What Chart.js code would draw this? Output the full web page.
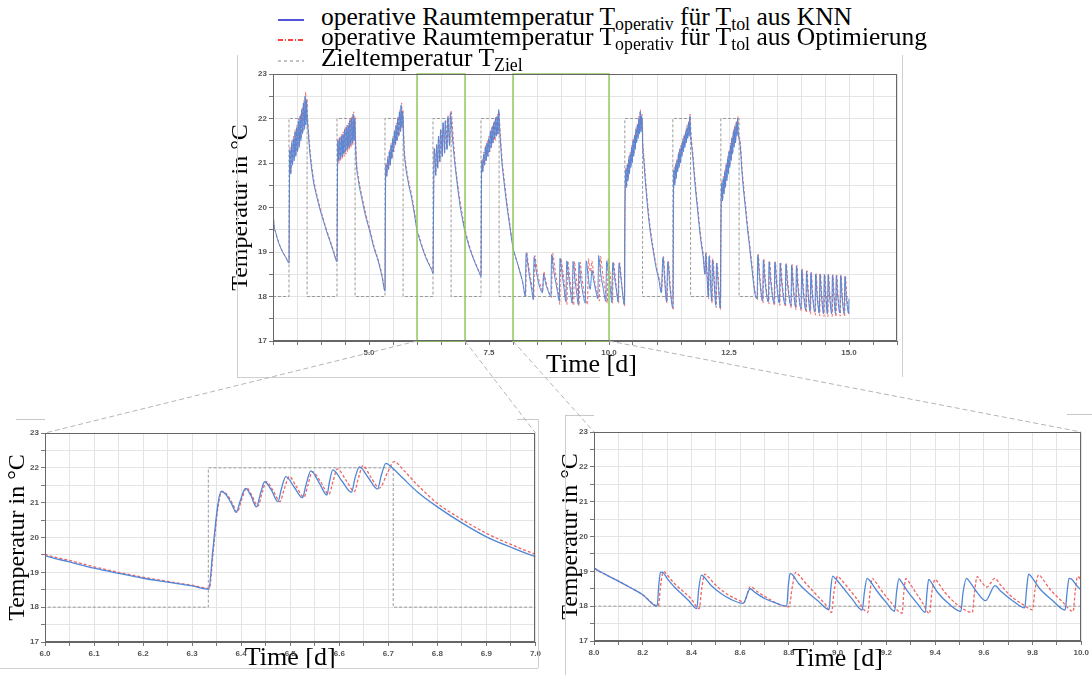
<!DOCTYPE html>
<html>
<head>
<meta charset="utf-8">
<script src="https://cdn.jsdelivr.net/npm/chart.js@4.4.0/dist/chart.umd.min.js"></script>
<style>
    body { margin: 0; background: #fff; width: 1092px; height: 675px; position: relative; overflow: hidden; }
    canvas { position: absolute; }
    .leg { position: absolute; left: 321px; font-family: 'Liberation Serif', serif; font-size: 25.5px; line-height: 25px; white-space: nowrap; color: #000; }
    .leg sub { font-size: 0.7em; vertical-align: -0.28em; line-height: 0; }
    #overlay { position: absolute; left: 0; top: 0; pointer-events: none; }
</style>
</head>
<body>
<canvas id="topChart" width="674" height="312" style="left:229px;top:66px"></canvas>
<canvas id="zoomA" width="538" height="246" style="left:6px;top:425px"></canvas>
<canvas id="zoomB" width="533" height="248" style="left:559px;top:424px"></canvas>

<div class="leg" style="top:4px">operative Raumtemperatur T<sub>operativ</sub> für T<sub>tol</sub> aus KNN</div>
<div class="leg" style="top:24px">operative Raumtemperatur T<sub>operativ</sub> für T<sub>tol</sub> aus Optimierung</div>
<div class="leg" style="top:45px">Zieltemperatur T<sub>Ziel</sub></div>

<svg id="overlay" width="1092" height="675"></svg>

<script>
// Time axis in days, temperatures in °C

// KNN, days 3 - 6
const knnDays3to6 = [
    [3.00,19.95],[3.02,19.62],[3.06,19.42],[3.12,19.2],[3.2,19.0],[3.27,18.87],[3.333,18.75],
    [3.342,20.4],[3.352,21.3],[3.37,20.75],[3.388,21.45],[3.405,20.95],[3.423,21.55],[3.44,21.05],[3.458,21.7],[3.475,21.15],
    [3.493,21.8],[3.51,21.25],[3.528,21.95],[3.545,21.35],[3.563,22.05],[3.58,21.5],[3.598,22.2],[3.615,21.65],[3.633,22.35],
    [3.65,21.75],[3.668,22.5],[3.685,21.85],[3.7,22.4],[3.712,22.05],
    [3.74,21.6],[3.78,21.1],[3.84,20.6],[3.91,20.25],[3.98,19.95],[4.05,19.7],[4.12,19.45],[4.19,19.23],[4.26,19.0],[4.333,18.78],
    [4.342,20.6],[4.352,21.5],[4.37,21.05],[4.388,21.55],[4.405,21.1],[4.423,21.6],[4.44,21.15],[4.458,21.65],[4.475,21.2],
    [4.493,21.75],[4.51,21.25],[4.528,21.8],[4.545,21.3],[4.563,21.85],[4.58,21.35],[4.598,21.95],[4.615,21.4],[4.633,22.0],
    [4.65,21.45],[4.668,22.1],[4.685,21.5],[4.7,22.0],[4.712,21.7],
    [4.73,21.1],[4.78,20.6],[4.85,20.2],[4.93,19.8],[5.02,19.45],[5.1,19.1],[5.19,18.8],[5.27,18.45],[5.333,18.12],
    [5.342,20.2],[5.352,20.95],[5.37,20.7],[5.388,21.1],[5.405,20.85],[5.423,21.25],[5.44,20.95],[5.458,21.4],[5.475,21.1],
    [5.493,21.55],[5.51,21.25],[5.528,21.7],[5.545,21.4],[5.563,21.85],[5.58,21.5],[5.598,22.0],[5.615,21.6],[5.633,22.15],
    [5.65,21.7],[5.668,22.3],[5.685,21.8],[5.7,22.15],[5.712,21.85],
    [5.73,21.3],[5.76,20.95],[5.82,20.55],[5.89,20.2],[5.95,19.82]
];

// KNN, days 6 - 8
const knnDays6to8 = [
    [6.0,19.48],[6.05,19.3],[6.1,19.12],[6.15,18.97],[6.2,18.83],[6.25,18.72],[6.3,18.61],[6.334,18.52],
    [6.342,19.6],[6.352,20.9],[6.359,21.32],[6.368,21.25],[6.38,20.98],[6.39,20.72],[6.398,21.05],[6.409,21.41],[6.42,21.2],
    [6.431,20.88],[6.44,21.3],[6.448,21.6],[6.462,21.35],[6.475,21.03],[6.482,21.4],[6.491,21.75],[6.508,21.45],[6.525,21.14],
    [6.532,21.5],[6.542,21.91],[6.558,21.6],[6.575,21.22],[6.58,21.6],[6.587,21.94],[6.605,21.63],[6.625,21.3],[6.632,21.7],
    [6.641,22.03],[6.66,21.7],[6.678,21.39],[6.686,21.8],[6.695,22.13],[6.709,21.99],[6.73,21.7],[6.76,21.3],[6.8,20.88],
    [6.85,20.42],[6.9,20.02],[6.95,19.72],[7.0,19.45],
    [7.05,19.25],[7.1,19.07],[7.15,18.92],[7.2,18.78],[7.25,18.65],[7.3,18.53],[7.333,18.45],
    [7.342,20.4],[7.352,21.05],[7.37,20.8],[7.388,21.2],[7.405,20.95],[7.423,21.35],[7.44,21.05],[7.458,21.45],[7.475,21.15],
    [7.493,21.55],[7.51,21.25],[7.528,21.7],[7.545,21.35],[7.563,21.8],[7.58,21.45],[7.598,21.9],[7.615,21.55],[7.633,22.0],
    [7.65,21.6],[7.668,22.05],[7.685,21.65],[7.703,22.2],[7.715,21.9],
    [7.74,21.45],[7.77,21.0],[7.81,20.6],[7.87,20.06],[7.93,19.6]
];

// KNN, weekend days 8 - 10.3
const knnDays8to10 = [
    [8.0,19.1],[8.05,18.9],[8.1,18.72],[8.15,18.53],[8.2,18.33],[8.259,18.0],[8.266,18.6],[8.273,18.97],[8.28,18.98],
    [8.3,18.8],[8.33,18.55],[8.36,18.35],[8.39,18.15],[8.422,17.93],[8.43,18.5],[8.441,18.89],[8.45,18.85],[8.48,18.6],
    [8.52,18.37],[8.56,18.2],[8.612,18.08],[8.641,18.5],[8.66,18.4],[8.7,18.22],[8.75,18.08],[8.791,18.0],[8.798,18.6],
    [8.805,18.94],[8.815,18.9],[8.84,18.65],[8.88,18.38],[8.92,18.15],[8.965,17.9],[8.972,18.5],[8.98,18.86],[8.99,18.8],
    [9.02,18.55],[9.06,18.2],[9.101,17.89],[9.11,18.4],[9.121,18.8],[9.13,18.75],[9.16,18.45],[9.2,18.1],[9.234,17.85],
    [9.242,18.4],[9.252,18.79],[9.26,18.72],[9.29,18.4],[9.33,18.05],[9.36,17.82],[9.367,18.4],[9.374,18.77],[9.383,18.7],
    [9.41,18.4],[9.46,18.05],[9.506,17.85],[9.515,18.4],[9.529,18.8],[9.54,18.72],[9.57,18.42],[9.608,18.16],[9.646,18.59],
    [9.67,18.43],[9.72,18.15],[9.768,17.95],[9.776,18.5],[9.784,18.92],[9.795,18.85],[9.83,18.5],[9.88,18.18],[9.934,17.89],
    [9.942,18.4],[9.95,18.8],[9.96,18.78],[9.98,18.6],[10.0,18.45],[10.03,18.15],[10.06,17.87],[10.068,18.4],[10.08,18.76],
    [10.09,18.7],[10.12,18.4],[10.16,18.1],[10.19,17.88],[10.198,18.4],[10.21,18.75],[10.22,18.7],[10.25,18.4],[10.28,18.1],
    [10.32,17.82]
];

// KNN, days 10.3 - 13.1
const knnDays10to13 = [
    [10.328,19.5],[10.335,20.3],[10.35,20.85],[10.365,20.45],[10.38,20.95],[10.395,20.6],[10.41,21.1],[10.425,20.75],
    [10.44,21.2],[10.455,20.9],[10.47,21.35],[10.485,21.0],[10.5,21.5],[10.515,21.15],[10.53,21.6],[10.545,21.3],
    [10.56,21.75],[10.575,21.45],[10.59,21.85],[10.605,21.55],[10.62,22.0],[10.635,21.65],[10.65,22.15],[10.665,21.7],
    [10.68,22.05],[10.692,21.8],
    [10.7,21.44],[10.73,21.0],[10.76,20.55],[10.8,20.05],[10.83,19.72],[10.88,19.3],[10.93,18.97],[10.98,18.65],[11.04,18.37],
    [11.09,18.08],[11.11,18.6],[11.125,18.88],[11.16,18.35],[11.2,17.88],[11.212,18.4],[11.225,18.78],[11.27,18.2],[11.33,17.75],
    [11.343,20.3],[11.355,20.85],[11.37,20.5],[11.385,20.95],[11.4,20.65],[11.415,21.05],[11.43,20.8],[11.445,21.2],
    [11.46,20.9],[11.475,21.3],[11.49,21.0],[11.505,21.4],[11.52,21.15],[11.535,21.5],[11.55,21.25],[11.565,21.6],
    [11.58,21.35],[11.595,21.7],[11.61,21.45],[11.625,21.8],[11.64,21.55],[11.655,21.9],[11.67,21.6],[11.685,22.05],[11.695,21.75],
    [11.72,21.4],[11.74,21.2],[11.77,20.8],[11.81,20.32],[11.85,19.9],[11.88,19.57],[11.92,19.2],[11.96,18.9],[12.0,18.5],
    [12.006,18.8],[12.015,18.97],[12.04,18.5],[12.07,18.0],[12.077,18.5],[12.085,18.9],[12.11,18.4],[12.14,17.9],[12.147,18.4],
    [12.155,18.82],[12.19,18.3],[12.225,17.8],[12.232,18.35],[12.24,18.75],[12.28,18.2],[12.318,17.74],
    [12.328,19.2],[12.335,20.0],[12.35,20.55],[12.365,20.15],[12.38,20.65],[12.395,20.3],[12.41,20.8],[12.425,20.45],
    [12.44,20.95],[12.455,20.6],[12.47,21.1],[12.485,20.75],[12.5,21.25],[12.515,20.9],[12.53,21.4],[12.545,21.05],
    [12.56,21.55],[12.575,21.2],[12.59,21.7],[12.605,21.35],[12.62,21.8],[12.635,21.45],[12.65,21.9],[12.665,21.6],
    [12.68,22.0],[12.69,21.7],
    [12.72,21.5],[12.74,21.29],[12.77,20.8],[12.81,20.32],[12.85,19.9],[12.88,19.57],[12.93,19.1],[12.97,18.7],[13.04,18.07]
];

// KNN, days 13 - 15
const knnDays13to15 = [
    [13.085,17.95],[13.1,18.93],[13.13,18.5],[13.2,17.9],[13.215,18.82],[13.245,18.4],[13.32,17.88],[13.335,18.78],
    [13.365,18.38],[13.44,17.85],[13.455,18.77],[13.485,18.37],[13.55,17.85],[13.565,18.75],[13.595,18.35],[13.67,17.82],
    [13.685,18.73],[13.715,18.33],[13.79,17.8],[13.805,18.7],[13.83,18.3],[13.89,17.76],[13.905,18.68],[13.93,18.28],
    [14.0,17.73],[14.015,18.6],[14.04,18.2],[14.1,17.7],[14.115,18.57],[14.14,18.17],[14.19,17.68],[14.205,18.53],
    [14.23,18.13],[14.29,17.65],[14.305,18.5],[14.33,18.1],[14.38,17.63],[14.395,18.5],[14.42,18.1],[14.47,17.62],
    [14.485,18.49],[14.51,18.08],[14.55,17.62],[14.565,18.49],[14.59,18.08],[14.64,17.62],[14.655,18.48],[14.68,18.07],
    [14.72,17.62],[14.735,18.47],[14.76,18.07],[14.81,17.63],[14.825,18.47],[14.85,18.07],[14.9,17.62],[14.915,18.45],
    [14.94,18.05],[14.99,17.62],[15.0,17.95]
];

// Optimierung, days 3 - 6
const optDays3to6 = [
    [3.0,19.95],[3.02,19.62],[3.06,19.43],[3.12,19.21],[3.2,19.01],[3.27,18.88],[3.335,18.76],
    [3.345,20.5],[3.356,21.35],[3.374,20.8],[3.392,21.5],[3.41,21.0],[3.428,21.6],[3.446,21.1],[3.464,21.75],[3.482,21.2],
    [3.5,21.85],[3.518,21.3],[3.536,22.0],[3.554,21.4],[3.572,22.1],[3.59,21.55],[3.608,22.25],[3.626,21.7],[3.644,22.4],
    [3.662,21.8],[3.68,22.6],[3.696,21.95],[3.706,22.45],[3.716,22.15],
    [3.745,21.65],[3.785,21.15],[3.845,20.65],[3.915,20.28],[3.985,19.98],[4.055,19.72],[4.125,19.47],[4.195,19.25],[4.265,19.02],[4.335,18.8],
    [4.345,20.7],[4.356,21.55],[4.374,21.0],[4.392,21.6],[4.41,21.05],[4.428,21.65],[4.446,21.1],[4.464,21.7],[4.482,21.15],
    [4.5,21.8],[4.518,21.2],[4.536,21.85],[4.554,21.25],[4.572,21.9],[4.59,21.3],[4.608,22.0],[4.626,21.35],[4.644,22.05],
    [4.662,21.4],[4.68,22.15],[4.696,21.5],[4.706,22.05],[4.716,21.75],
    [4.735,21.15],[4.785,20.65],[4.855,20.25],[4.935,19.85],[5.025,19.48],[5.105,19.13],[5.195,18.82],[5.275,18.47],[5.335,18.14],
    [5.345,20.3],[5.356,21.0],[5.374,20.72],[5.392,21.15],[5.41,20.85],[5.428,21.3],[5.446,20.95],[5.464,21.45],[5.482,21.1],
    [5.5,21.6],[5.518,21.25],[5.536,21.75],[5.554,21.4],[5.572,21.9],[5.59,21.5],[5.608,22.05],[5.626,21.6],[5.644,22.2],
    [5.662,21.7],[5.68,22.35],[5.696,21.8],[5.706,22.2],[5.716,21.9],
    [5.735,21.35],[5.765,21.0],[5.825,20.6],[5.895,20.25],[5.955,19.86]
];

// Optimierung, days 6 - 8
const optDays6to8 = [
    [6.0,19.52],[6.05,19.34],[6.1,19.16],[6.15,19.0],[6.2,18.86],[6.25,18.74],[6.3,18.63],[6.335,18.54],
    [6.343,19.6],[6.353,20.9],[6.361,21.33],[6.37,21.25],[6.382,20.98],[6.392,20.73],[6.4,21.05],[6.411,21.42],[6.422,21.2],
    [6.434,20.9],[6.443,21.3],[6.451,21.6],[6.465,21.35],[6.479,21.03],[6.488,21.4],[6.498,21.75],[6.513,21.45],[6.528,21.16],
    [6.536,21.5],[6.545,21.89],[6.562,21.6],[6.579,21.24],[6.587,21.6],[6.596,21.97],[6.614,21.64],[6.631,21.32],[6.639,21.7],
    [6.648,22.06],[6.665,21.72],[6.682,21.42],[6.698,21.85],[6.712,22.18],[6.73,21.95],[6.76,21.5],[6.8,20.98],[6.85,20.52],
    [6.9,20.12],[6.95,19.8],[7.0,19.52],
    [7.05,19.3],[7.1,19.11],[7.15,18.95],[7.2,18.8],[7.25,18.67],[7.3,18.55],[7.335,18.47],
    [7.345,20.5],[7.356,21.1],[7.374,20.82],[7.392,21.25],[7.41,20.95],[7.428,21.4],[7.446,21.05],[7.464,21.5],[7.482,21.15],
    [7.5,21.6],[7.518,21.25],[7.536,21.75],[7.554,21.35],[7.572,21.85],[7.59,21.45],[7.608,21.95],[7.626,21.5],[7.644,22.05],
    [7.662,21.6],[7.68,22.1],[7.696,21.65],[7.708,22.15],[7.72,21.95],
    [7.745,21.5],[7.775,21.05],[7.815,20.65],[7.875,20.1],[7.935,19.63]
];

// Optimierung, weekend days 8 - 10.3
const optDays8to10 = [
    [8.0,19.1],[8.05,18.9],[8.1,18.72],[8.15,18.53],[8.2,18.33],[8.264,18.0],[8.272,18.5],[8.28,18.9],[8.287,18.99],
    [8.3,18.9],[8.33,18.65],[8.37,18.4],[8.4,18.2],[8.432,17.93],[8.442,18.5],[8.455,18.92],[8.465,18.87],[8.5,18.6],
    [8.55,18.33],[8.6,18.15],[8.615,18.1],[8.642,18.56],[8.67,18.42],[8.72,18.2],[8.76,18.05],[8.8,17.98],[8.815,18.6],
    [8.828,18.97],[8.84,18.9],[8.87,18.65],[8.91,18.35],[8.95,18.05],[8.975,17.82],[8.985,18.4],[9.0,18.86],[9.01,18.8],
    [9.04,18.55],[9.08,18.2],[9.124,17.82],[9.133,18.4],[9.142,18.8],[9.15,18.75],[9.18,18.45],[9.22,18.1],[9.265,17.8],
    [9.272,18.4],[9.28,18.79],[9.29,18.72],[9.32,18.4],[9.35,18.08],[9.377,17.79],[9.387,18.4],[9.4,18.77],[9.41,18.7],
    [9.44,18.4],[9.49,18.05],[9.553,17.82],[9.562,18.4],[9.573,18.85],[9.59,18.7],[9.613,18.55],[9.63,18.68],[9.644,18.8],
    [9.67,18.6],[9.71,18.3],[9.76,18.05],[9.8,17.9],[9.81,18.45],[9.825,18.9],[9.84,18.8],[9.87,18.5],[9.92,18.15],
    [9.967,17.85],[9.975,18.4],[9.985,18.85],[10.0,18.75],[10.04,18.3],[10.075,17.85],[10.083,18.4],[10.095,18.78],
    [10.105,18.7],[10.14,18.35],[10.2,17.85],[10.208,18.4],[10.222,18.76],[10.232,18.68],[10.27,18.25],[10.325,17.78]
];

// Optimierung, days 10.3 - 13.1
const optDays10to13 = [
    [10.333,19.6],[10.34,20.4],[10.355,20.9],[10.37,20.5],[10.385,21.0],[10.4,20.65],[10.415,21.15],[10.43,20.8],
    [10.445,21.25],[10.46,20.95],[10.475,21.4],[10.49,21.05],[10.505,21.55],[10.52,21.2],[10.535,21.65],[10.55,21.35],
    [10.565,21.8],[10.58,21.5],[10.595,21.9],[10.61,21.6],[10.625,22.05],[10.64,21.7],[10.655,22.2],[10.67,21.75],
    [10.685,22.1],[10.697,21.85],
    [10.705,21.5],[10.735,21.05],[10.765,20.6],[10.805,20.1],[10.835,19.77],[10.885,19.35],[10.935,19.0],[10.985,18.68],
    [11.045,18.4],[11.095,18.1],[11.118,18.6],[11.133,18.9],[11.17,18.35],[11.21,17.85],[11.222,18.4],[11.235,18.8],
    [11.28,18.2],[11.338,17.7],
    [11.348,20.4],[11.36,20.9],[11.375,20.55],[11.39,21.0],[11.405,20.7],[11.42,21.1],[11.435,20.85],[11.45,21.25],
    [11.465,20.95],[11.48,21.35],[11.495,21.05],[11.51,21.45],[11.525,21.2],[11.54,21.55],[11.555,21.3],[11.57,21.65],
    [11.585,21.4],[11.6,21.75],[11.615,21.5],[11.63,21.85],[11.645,21.6],[11.66,21.95],[11.675,21.65],[11.69,22.1],[11.7,21.8],
    [11.725,21.45],[11.745,21.25],[11.775,20.85],[11.815,20.37],[11.855,19.95],[11.885,19.62],[11.925,19.25],[11.965,18.93],
    [12.005,18.5],[12.012,18.8],[12.022,19.0],[12.045,18.5],[12.077,17.95],[12.084,18.5],[12.093,18.92],[12.12,18.4],
    [12.148,17.85],[12.155,18.4],[12.164,18.85],[12.2,18.3],[12.235,17.75],[12.242,18.35],[12.25,18.75],[12.29,18.2],[12.325,17.7],
    [12.333,19.3],[12.34,20.1],[12.355,20.6],[12.37,20.2],[12.385,20.7],[12.4,20.35],[12.415,20.85],[12.43,20.5],
    [12.445,21.0],[12.46,20.65],[12.475,21.15],[12.49,20.8],[12.505,21.3],[12.52,20.95],[12.535,21.45],[12.55,21.1],
    [12.565,21.6],[12.58,21.25],[12.595,21.75],[12.61,21.4],[12.625,21.85],[12.64,21.5],[12.655,21.95],[12.67,21.65],
    [12.685,22.05],[12.695,21.75],
    [12.725,21.55],[12.745,21.33],[12.775,20.85],[12.815,20.37],[12.855,19.95],[12.885,19.62],[12.935,19.15],[12.975,18.75],[13.045,18.1]
];

// Optimierung, days 13 - 15
const optDays13to15 = [
    [13.092,17.92],[13.108,18.95],[13.14,18.5],[13.21,17.85],[13.225,18.85],[13.255,18.42],[13.33,17.83],[13.345,18.8],
    [13.375,18.4],[13.45,17.8],[13.465,18.78],[13.495,18.38],[13.56,17.8],[13.575,18.77],[13.605,18.36],[13.68,17.77],
    [13.695,18.75],[13.725,18.34],[13.8,17.74],[13.815,18.72],[13.84,18.31],[13.9,17.7],[13.915,18.7],[13.94,18.29],
    [14.01,17.67],[14.025,18.62],[14.05,18.21],[14.11,17.64],[14.125,18.58],[14.15,18.17],[14.2,17.6],[14.215,18.55],
    [14.24,18.13],[14.3,17.58],[14.315,18.52],[14.34,18.1],[14.39,17.56],[14.405,18.51],[14.43,18.1],[14.48,17.55],
    [14.495,18.5],[14.52,18.08],[14.56,17.55],[14.575,18.5],[14.6,18.08],[14.65,17.55],[14.665,18.49],[14.69,18.07],
    [14.73,17.55],[14.745,18.48],[14.77,18.07],[14.82,17.56],[14.835,18.48],[14.86,18.06],[14.91,17.55],[14.925,18.46],
    [14.95,18.05],[15.0,17.6]
];

// Zieltemperatur (setpoint steps)
const zielPoints = [
    [3.0,18],[3.333,18],[3.333,22],[3.71,22],[3.71,18],
    [4.333,18],[4.333,22],[4.71,22],[4.71,18],
    [5.333,18],[5.333,22],[5.71,22],[5.71,18],
    [6.333,18],[6.333,22],[6.71,22],[6.71,18],
    [7.333,18],[7.333,22],[7.71,22],[7.71,18],
    [10.33,18],[10.33,22],[10.7,22],[10.7,18],
    [11.33,18],[11.33,22],[11.7,22],[11.7,18],
    [12.33,18],[12.33,22],[12.71,22],[12.71,18],[15.0,18]
];

// Time windows shown in the two detail charts
const zoomWindows = [[6.0, 7.0], [8.0, 10.0]];

const knnSeries = [...knnDays3to6, ...knnDays6to8, ...knnDays8to10, ...knnDays10to13, ...knnDays13to15];
const optSeries = [...optDays3to6, ...optDays6to8, ...optDays8to10, ...optDays10to13, ...optDays13to15];

function toXY(arr) {
    return arr.map(p => ({ x: p[0], y: p[1] }));
}

// label only every n-th tick, the others keep their tick mark and grid line
function tickLabel(step, digits) {
    return function (v) {
        const r = Math.round(v / step);
        return Math.abs(v - r * step) < 1e-6 ? v.toFixed(digits) : '';
    };
}

// full box around the plot area plus the green zoom windows
const frameBox = {
    id: 'frameBox',
    afterDatasetsDraw(chart, args, opts) {
        const { ctx, chartArea: a, scales } = chart;
        ctx.save();
        (opts.windows || []).forEach(w => {
            const x1 = scales.x.getPixelForValue(w[0]);
            const x2 = scales.x.getPixelForValue(w[1]);
            ctx.strokeStyle = '#93ca5f';
            ctx.lineWidth = 1.5;
            ctx.strokeRect(x1, a.top, x2 - x1, a.bottom - a.top);
        });
        ctx.strokeStyle = '#666';
        ctx.lineWidth = 1;
        ctx.strokeRect(Math.round(a.left) + 0.5, Math.round(a.top) + 0.5, Math.round(a.width) - 1, Math.round(a.height) - 1);
        ctx.restore();
    }
};

const tickFont = { family: 'Liberation Sans', size: 8, weight: 'bold' };
const yTitleFont = { family: 'Liberation Serif', size: 24, lineHeight: 1 };
const xTitleFont = { family: 'Liberation Serif', size: 26, lineHeight: 1 };

function buildChart(id, cfg) {
    return new Chart(document.getElementById(id), {
        type: 'line',
        data: {
            datasets: [{
                label: 'KNN',
                data: toXY(knnSeries),
                borderColor: '#4f86d8',
                borderWidth: cfg.lineWidth,
                cubicInterpolationMode: 'monotone',
                pointRadius: 0
            }, {
                label: 'Optimierung',
                data: toXY(optSeries),
                borderColor: '#f06464',
                borderWidth: cfg.lineWidth,
                borderDash: [3, 2],
                cubicInterpolationMode: 'monotone',
                pointRadius: 0
            }, {
                label: 'Ziel',
                data: toXY(zielPoints),
                borderColor: '#9a9a9a',
                borderWidth: 1,
                borderDash: [3, 2],
                pointRadius: 0
            }]
        },
        options: {
            responsive: false,
            animation: false,
            events: [],
            layout: { padding: cfg.padding },
            plugins: {
                legend: { display: false },
                tooltip: { enabled: false },
                frameBox: { windows: cfg.windows || [] }
            },
            scales: {
                x: {
                    type: 'linear',
                    min: cfg.xMin,
                    max: cfg.xMax,
                    ticks: { stepSize: cfg.xStep, autoSkip: false, maxRotation: 0, padding: 3, color: '#555', font: tickFont, callback: tickLabel(cfg.labelStep, 1) },
                    grid: { color: '#e4e4e4', tickColor: '#777', tickLength: 4 },
                    border: { color: '#666' },
                    title: { display: true, text: cfg.xTitle, color: '#000', font: xTitleFont, padding: 0 },
                    afterFit(scale) { scale.height = cfg.xAxisHeight; }
                },
                y: {
                    type: 'linear',
                    min: 17,
                    max: 23,
                    ticks: { stepSize: 0.5, autoSkip: false, padding: 2, color: '#555', font: tickFont, callback: tickLabel(1, 0) },
                    grid: { color: '#e4e4e4', tickColor: '#777', tickLength: 4 },
                    border: { color: '#666' },
                    title: { display: true, text: 'Temperatur in °C', color: '#000', font: yTitleFont, padding: 0 },
                    afterFit(scale) { scale.width = cfg.yAxisWidth; }
                }
            }
        },
        plugins: [frameBox]
    });
}

// the top chart's axis title sits a little right of centre in the figure
const topChart = buildChart('topChart', {
    xMin: 3, xMax: 16, xStep: 0.5, labelStep: 2.5, lineWidth: 1, xTitle: '\u2002Time [d]',
    yAxisWidth: 44, xAxisHeight: 37, padding: { top: 8, right: 6, left: 0, bottom: 0 },
    windows: zoomWindows
});
const zoomA = buildChart('zoomA', {
    xMin: zoomWindows[0][0], xMax: zoomWindows[0][1], xStep: 0.05, labelStep: 0.1, lineWidth: 1.3, xTitle: 'Time [d]',
    yAxisWidth: 39, xAxisHeight: 29, padding: { top: 8, right: 4, left: 0, bottom: 0 }
});
const zoomB = buildChart('zoomB', {
    xMin: zoomWindows[1][0], xMax: zoomWindows[1][1], xStep: 0.1, labelStep: 0.2, lineWidth: 1.3, xTitle: 'Time [d]',
    yAxisWidth: 35, xAxisHeight: 31, padding: { top: 8, right: 7, left: 0, bottom: 0 }
});

// overlay: legend samples, picture frames and the zoom connector lines
const svg = document.getElementById('overlay');
function addLine(x1, y1, x2, y2, color, width, dash) {
    const l = document.createElementNS('http://www.w3.org/2000/svg', 'line');
    l.setAttribute('x1', x1); l.setAttribute('y1', y1);
    l.setAttribute('x2', x2); l.setAttribute('y2', y2);
    l.setAttribute('stroke', color);
    l.setAttribute('stroke-width', width);
    if (dash) l.setAttribute('stroke-dasharray', dash);
    svg.appendChild(l);
}

// legend samples
addLine(278, 20, 304, 20, '#1a1acc', 1.5);
addLine(278, 40, 304, 40, '#ff0000', 1.5, '5,2,1,2');
addLine(278, 61, 304, 61, '#888', 1, '3,3');

// light frames of the three sub-pictures
addLine(237.5, 55, 237.5, 377, '#cfcfcf', 1);
addLine(237, 377.5, 600, 377.5, '#cfcfcf', 1);
addLine(902.5, 55, 902.5, 377, '#cfcfcf', 1);
addLine(16, 419.5, 45, 419.5, '#c8c8c8', 1);
addLine(517, 419.5, 538, 419.5, '#c8c8c8', 1);
addLine(538.5, 419, 538.5, 668, '#cfcfcf', 1);
addLine(0, 668.5, 538, 668.5, '#cfcfcf', 1);
addLine(565.5, 415, 565.5, 675, '#cfcfcf', 1);
addLine(565, 415.5, 594, 415.5, '#c8c8c8', 1);
addLine(1067, 414.5, 1092, 414.5, '#c8c8c8', 1);

// connectors from the green windows to the detail charts
function pageX(chart, canvasId, v) {
    return chart.scales.x.getPixelForValue(v) + document.getElementById(canvasId).offsetLeft;
}
const topBottom = topChart.chartArea.bottom + document.getElementById('topChart').offsetTop;
[[zoomA, 'zoomA'], [zoomB, 'zoomB']].forEach((z, i) => {
    const w = zoomWindows[i];
    const ca = z[0].chartArea;
    const off = document.getElementById(z[1]);
    addLine(pageX(topChart, 'topChart', w[0]), topBottom, ca.left + off.offsetLeft, ca.top + off.offsetTop, '#b5b5b5', 1, '5,3');
    addLine(pageX(topChart, 'topChart', w[1]), topBottom, ca.right + off.offsetLeft, ca.top + off.offsetTop, '#b5b5b5', 1, '5,3');
});
</script>
</body>
</html>
